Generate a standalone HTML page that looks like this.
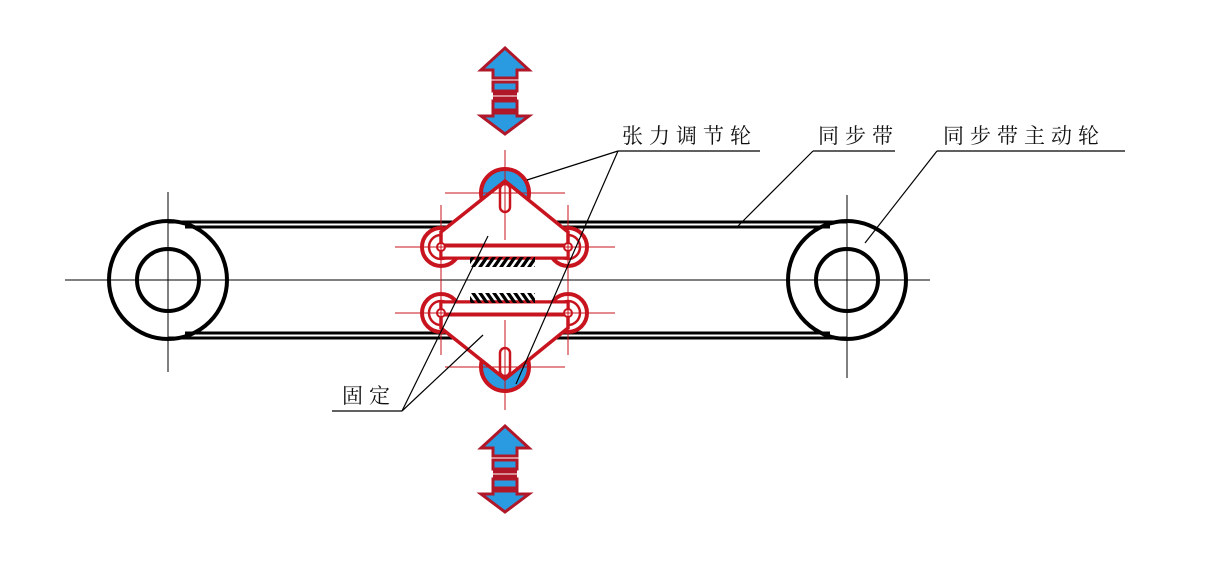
<!DOCTYPE html>
<html><head><meta charset="utf-8"><style>
html,body{margin:0;padding:0;background:#fff;}
svg{display:block;}
text{font-family:"Liberation Serif","Noto Serif CJK SC","Noto Sans CJK SC",serif;font-size:21px;fill:#111;letter-spacing:6px;}
</style></head><body>
<svg width="1207" height="588" viewBox="0 0 1207 588" xmlns="http://www.w3.org/2000/svg">
<defs>
<pattern id="h" width="7" height="12" patternUnits="userSpaceOnUse" patternTransform="skewX(-35)">
<rect x="0" y="0" width="4" height="12" fill="#000"/>
</pattern>
<g id="arrow">
<polygon points="26,2 50,24 38,24 38,32 14,32 14,24 2,24" fill="#2a9be0" stroke="#b0182a" stroke-width="3"/>
<rect x="14" y="36" width="24" height="9" fill="#2a9be0" stroke="#b0182a" stroke-width="3"/>
<line x1="14" y1="48" x2="38" y2="48" stroke="#b0182a" stroke-width="3"/>
<line x1="14" y1="52" x2="38" y2="52" stroke="#b0182a" stroke-width="3"/>
<rect x="14" y="55" width="24" height="9" fill="#2a9be0" stroke="#b0182a" stroke-width="3"/>
<polygon points="14,67 38,67 38,70 50,70 26,88 2,70 14,70" fill="#2a9be0" stroke="#b0182a" stroke-width="3"/>
</g>
<g id="tens">
<circle cx="505" cy="193" r="24" fill="#2a9be0" stroke="#c8141e" stroke-width="4"/>
<!-- side rollers -->
<circle cx="441" cy="247" r="19" fill="#fff" stroke="#c8141e" stroke-width="4"/>
<circle cx="441" cy="247" r="12" fill="#fff" stroke="#c8141e" stroke-width="2.5"/>
<circle cx="568" cy="247" r="19" fill="#fff" stroke="#c8141e" stroke-width="4"/>
<circle cx="568" cy="247" r="12" fill="#fff" stroke="#c8141e" stroke-width="2.5"/>
<!-- plate -->
<polygon points="505,181 441,232 441,258 568,258 568,232" fill="#fff" stroke="#c8141e" stroke-width="3.5"/>
<rect x="441" y="245" width="127" height="13" fill="#fff" stroke="#c8141e" stroke-width="3"/>
<circle cx="441" cy="247" r="4" fill="#fff" stroke="#c8141e" stroke-width="2"/>
<circle cx="568" cy="247" r="4" fill="#fff" stroke="#c8141e" stroke-width="2"/>
<rect x="500" y="184" width="10" height="28" rx="5" fill="#fff" stroke="#c8141e" stroke-width="2.5"/>
<!-- center lines -->
<g stroke="#c8141e" stroke-width="1">
<line x1="445" y1="193" x2="565" y2="193"/>
<line x1="505" y1="150" x2="505" y2="240"/>
<line x1="441" y1="205" x2="441" y2="285"/>
<line x1="568" y1="205" x2="568" y2="285"/>
<line x1="395" y1="247" x2="615" y2="247"/>
</g>
<rect x="470" y="257" width="65" height="10" fill="url(#h)"/>
</g>
</defs>

<line x1="65" y1="280" x2="930" y2="280" stroke="#000" stroke-width="1"/>
<line x1="168" y1="192" x2="168" y2="372" stroke="#000" stroke-width="1"/>
<line x1="847" y1="195" x2="847" y2="378" stroke="#000" stroke-width="1"/>

<g stroke="#000" stroke-width="3">
<line x1="168" y1="222" x2="847" y2="222"/>
<line x1="185" y1="227" x2="830" y2="227"/>
<line x1="168" y1="338" x2="847" y2="338"/>
<line x1="185" y1="333" x2="830" y2="333"/>
</g>

<circle cx="168" cy="280" r="59" fill="none" stroke="#000" stroke-width="4"/>
<circle cx="168" cy="280" r="31" fill="none" stroke="#000" stroke-width="4"/>
<circle cx="847" cy="280" r="59" fill="none" stroke="#000" stroke-width="4"/>
<circle cx="847" cy="280" r="31" fill="none" stroke="#000" stroke-width="4"/>

<use href="#tens"/>
<use href="#tens" transform="translate(0,560) scale(1,-1)"/>

<use href="#arrow" transform="translate(479,46)"/>
<use href="#arrow" transform="translate(479,424)"/>

<g stroke="#000" stroke-width="1.2" fill="none">
<line x1="618" y1="151" x2="760" y2="151"/>
<line x1="618" y1="151" x2="527" y2="180"/>
<line x1="618" y1="151" x2="516" y2="384"/>
<line x1="813" y1="151" x2="895" y2="151"/>
<line x1="813" y1="151" x2="738" y2="226"/>
<line x1="937" y1="151" x2="1125" y2="151"/>
<line x1="937" y1="151" x2="865" y2="243"/>
<line x1="332" y1="411" x2="402" y2="411"/>
<line x1="402" y1="411" x2="488" y2="236"/>
<line x1="402" y1="411" x2="483" y2="335"/>
</g>
<text x="622" y="143">张力调节轮</text>
<text x="818" y="143">同步带</text>
<text x="943" y="143">同步带主动轮</text>
<text x="342" y="403">固定</text>
</svg>
</body></html>
